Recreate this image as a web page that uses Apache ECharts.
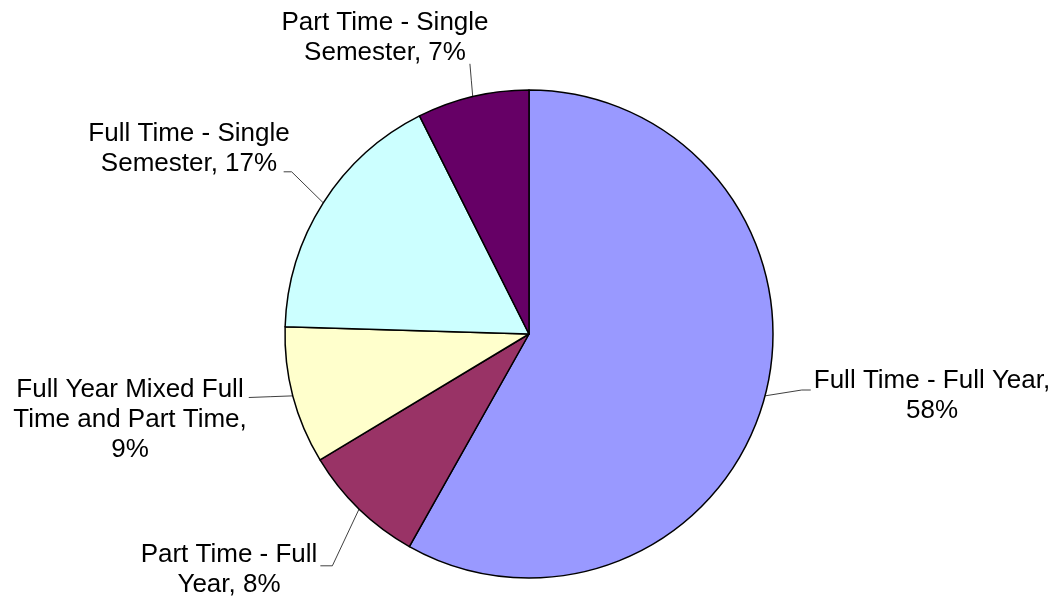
<!DOCTYPE html>
<html>
<head>
<meta charset="utf-8">
<script src="https://cdn.jsdelivr.net/npm/echarts@6/dist/echarts.min.js"></script>
<style>
html,body{margin:0;padding:0;background:#fff;}
#c{width:1057px;height:606px;}
</style>
</head>
<body>
<div id="c"></div>
<script>
const categories = ['Full Time - Full Year', 'Part Time - Full Year', 'Full Year Mixed Full Time and Part Time', 'Full Time - Single Semester', 'Part Time - Single Semester'];
const values = [58.1, 8.2, 9.1, 17.1, 7.4];
const percentLabels = ['58%', '8%', '9%', '17%', '7%'];
const labelLines = [
  ['Full Time - Full Year,', ''],
  ['Part Time - Full', 'Year, '],
  ['Full Year Mixed Full', 'Time and Part Time,', ''],
  ['Full Time - Single', 'Semester, '],
  ['Part Time - Single', 'Semester, ']
];
const colors = ['#9999FF', '#993366', '#FFFFCC', '#CCFFFF', '#660066'];

// label placement (layout only)
const labelCenters = [[932, 396], [229, 570], [130, 420], [189, 149], [385, 38]];
// end point of leader line as fraction of the label rect, plus an optional bend offset
const attach = [
  {fx: 0, fy: 0.40, ox: -3, bend: [-9, 0]},
  {fx: 1, fy: 0.43, ox: 3, bend: [12, 0]},
  {fx: 1, fy: 0.25, ox: 2, bend: null},
  {fx: 1, fy: 0.88, ox: -6, bend: [8, 0]},
  {fx: 0.91, fy: 0.93, ox: 0, bend: null}
];

const chart = echarts.init(document.getElementById('c'), null, {renderer: 'canvas'});
chart.setOption({
  backgroundColor: '#ffffff',
  animation: false,
  series: [{
    type: 'pie',
    center: [529, 334],
    radius: 244,
    startAngle: 90,
    clockwise: true,
    avoidLabelOverlap: false,
    color: colors,
    itemStyle: {borderColor: '#000', borderWidth: 1.5},
    label: {
      show: true,
      position: 'outside',
      formatter: p => {
        const ls = labelLines[p.dataIndex].slice();
        ls[ls.length - 1] = ls[ls.length - 1] + percentLabels[p.dataIndex];
        return ls.join('\n');
      },
      fontFamily: '"Liberation Sans", Arial, sans-serif',
      fontSize: 26,
      lineHeight: 30,
      color: '#000',
      align: 'center'
    },
    labelLine: {show: true, length: 20, length2: 10, lineStyle: {color: '#404040', width: 1}},
    labelLayout: function (params) {
      const i = params.dataIndex;
      const c = labelCenters[i];
      const lr = params.labelRect;
      const w = lr.width, h = lr.height;
      const rx = c[0] - w / 2, ry = c[1] - h / 2;
      const a = attach[i];
      const end = [rx + a.fx * w + a.ox, ry + a.fy * h];
      const start = params.labelLinePoints ? params.labelLinePoints[0] : end;
      const pts = [start];
      if (a.bend) pts.push([end[0] + a.bend[0], end[1] + a.bend[1]]);
      else pts.push([(start[0] + end[0]) / 2, (start[1] + end[1]) / 2]);
      pts.push(end);
      return {x: c[0], y: c[1], align: 'center', verticalAlign: 'middle', labelLinePoints: pts};
    },
    data: categories.map((n, i) => ({name: n, value: values[i]}))
  }]
});
</script>
</body>
</html>
